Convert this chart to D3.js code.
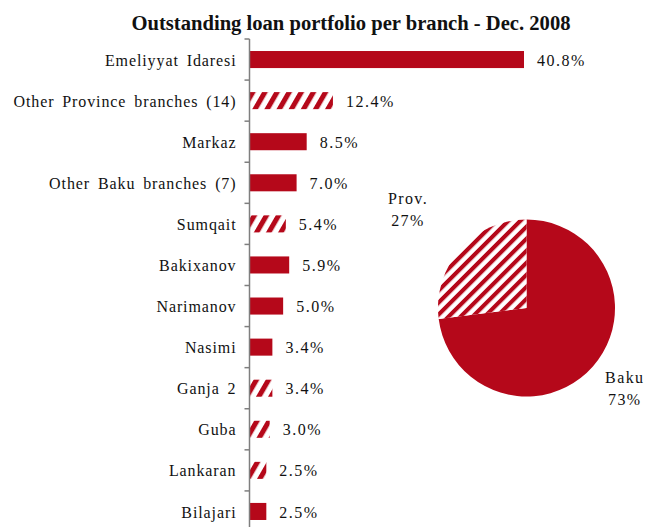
<!DOCTYPE html>
<html>
<head>
<meta charset="utf-8">
<script src="https://cdn.jsdelivr.net/npm/d3@7"></script>
<style>
  html, body { margin: 0; padding: 0; background: #fff; }
  svg { display: block; }
  text { font-family: "Liberation Serif", "Times New Roman", serif; fill: #111; }
</style>
</head>
<body>
<svg id="chart" width="646" height="527"></svg>
<script>
// Branch shares of the outstanding loan portfolio, Dec. 2008 (%)
const branches = [
  "Emeliyyat Idaresi", "Other Province branches (14)", "Markaz",
  "Other Baku branches (7)", "Sumqait", "Bakixanov", "Narimanov",
  "Nasimi", "Ganja 2", "Guba", "Lankaran", "Bilajari"
];
const shares = [40.8, 12.4, 8.5, 7.0, 5.4, 5.9, 5.0, 3.4, 3.4, 3.0, 2.5, 2.5];
const regions = ["Baku", "Prov", "Baku", "Baku", "Prov", "Baku", "Baku",
                 "Baku", "Prov", "Prov", "Prov", "Baku"];

// Baku vs. province split (%)
const splitNames = ["Baku", "Prov."];
const splitValues = [73, 27];
const splitRegion = ["Baku", "Prov"];

const RED = "#b5081a";
const svg = d3.select("#chart");

// Hatch patterns for province branches
const defs = svg.append("defs");
function hatch(id, period, angle) {
  const p = defs.append("pattern")
    .attr("id", id)
    .attr("patternUnits", "userSpaceOnUse")
    .attr("width", period).attr("height", period)
    .attr("patternTransform", `rotate(${angle})`);
  p.append("rect").attr("width", period).attr("height", period).attr("fill", "#fff");
  p.append("rect").attr("width", period * 0.48).attr("height", period).attr("fill", RED);
}
hatch("hatchBar", 10.5, 30);
hatch("hatchPie", 8.5, 45);

const fillFor = (r, pat) => r === "Prov" ? `url(#${pat})` : RED;

// Title
svg.append("text")
  .attr("x", 351).attr("y", 30)
  .attr("text-anchor", "middle")
  .style("font-weight", "bold")
  .style("font-size", "20.6px")
  .text("Outstanding loan portfolio per branch - Dec. 2008");

// Bar scales
const axisX = 249.5;
const x = d3.scaleLinear().domain([0, 40.8]).range([axisX, 524]);
const y = d3.scaleBand().domain(branches).range([39, 532])
  .paddingInner(0.585).paddingOuter(0.2925);

// Category labels
const yAxis = svg.append("g")
  .attr("transform", `translate(${axisX},0)`)
  .call(d3.axisLeft(y).tickSize(0).tickPadding(13));
yAxis.select(".domain").remove();
yAxis.selectAll("text")
  .style("font-family", "'Liberation Serif', 'Times New Roman', serif")
  .style("font-size", "16px")
  .style("letter-spacing", "0.9px")
  .style("word-spacing", "3px")
  .attr("fill", "#111")
  .attr("dy", "0.38em");

// Bars
svg.append("g").selectAll("rect")
  .data(branches)
  .join("rect")
  .attr("x", axisX)
  .attr("y", d => y(d))
  .attr("width", (d, i) => x(shares[i]) - axisX)
  .attr("height", y.bandwidth())
  .attr("fill", (d, i) => fillFor(regions[i], "hatchBar"));

// Value labels
svg.append("g").selectAll("text")
  .data(branches)
  .join("text")
  .attr("x", (d, i) => x(shares[i]) + 13)
  .attr("y", d => y(d) + y.bandwidth() / 2)
  .attr("dy", "0.38em")
  .style("font-size", "16px")
  .style("letter-spacing", "1.5px")
  .text((d, i) => d3.format(".1f")(shares[i]) + "%");

// Axis line with ticks at the category boundaries
const step = y.step();
const bounds = d3.range(branches.length + 1).map(i => 39 + i * step);
const axis = svg.append("g").attr("stroke", "#7f7f7f").attr("stroke-width", 1.5);
axis.append("line")
  .attr("x1", axisX).attr("x2", axisX)
  .attr("y1", bounds[0]).attr("y2", bounds[bounds.length - 1]);
axis.selectAll("line.tick")
  .data(bounds)
  .join("line")
  .attr("class", "tick")
  .attr("x1", axisX - 5).attr("x2", axisX)
  .attr("y1", d => d).attr("y2", d => d);

// Pie: Baku vs. province
const cx = 526.5, cy = 308, radius = 88.5;
const pie = d3.pie().sort(null).value(d => d);
const arcs = pie(splitValues);
const arc = d3.arc().innerRadius(0).outerRadius(radius);
const pg = svg.append("g").attr("transform", `translate(${cx},${cy})`);
pg.selectAll("path")
  .data(arcs)
  .join("path")
  .attr("d", arc)
  .attr("fill", (d, i) => fillFor(splitRegion[i], "hatchPie"));

// Pie labels placed outside each slice: [radius, baseline shift]
const labelPlace = [[131, -12], [158, 0]];
arcs.forEach((a, i) => {
  const [r, shift] = labelPlace[i];
  const la = d3.arc().innerRadius(r).outerRadius(r);
  const [lx, ly] = la.centroid(a);
  const t = pg.append("text")
    .attr("text-anchor", "middle")
    .style("font-size", "16px")
    .style("letter-spacing", "1.4px");
  t.append("tspan").attr("x", lx).attr("y", ly + shift).text(splitNames[i]);
  t.append("tspan").attr("x", lx).attr("y", ly + shift + 22).text(splitValues[i] + "%");
});
</script>
</body>
</html>
